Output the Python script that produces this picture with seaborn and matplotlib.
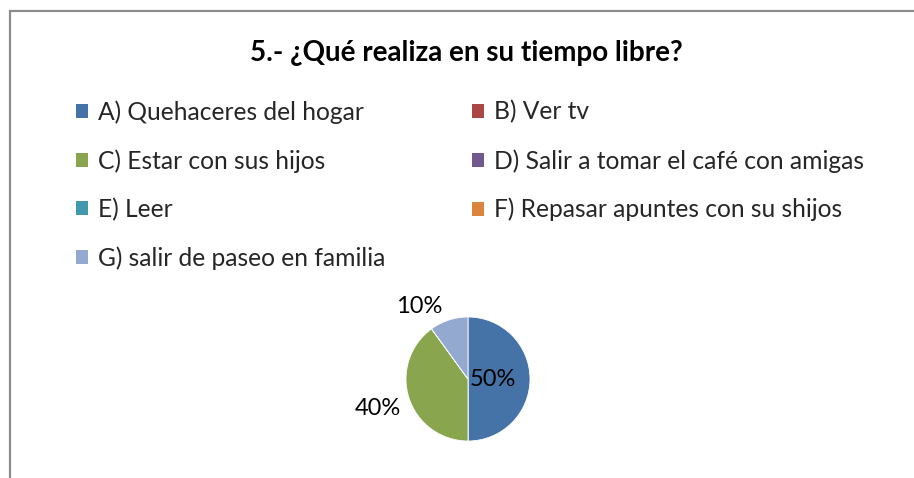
import numpy as np
import matplotlib
matplotlib.use('Agg')
import matplotlib.pyplot as plt
import seaborn as sns
from matplotlib.patches import Patch, Rectangle

sns.set_theme(style='white')
plt.rcParams['font.family'] = ['Lato', 'DejaVu Sans']

categorias = ['A) Quehaceres del hogar', 'B) Ver tv', 'C) Estar con sus hijos',
              'D) Salir a tomar el café con amigas', 'E) Leer',
              'F) Repasar apuntes con su shijos', 'G) salir de paseo en familia']
valores = [50, 0, 40, 0, 0, 0, 10]
etiquetas = ['50%', '', '40%', '', '', '', '10%']
colores = ['#4572A7', '#AA4643', '#89A54E', '#71588F', '#4198AF', '#DB843D', '#93A9CF']
titulo = '5.- ¿Qué realiza en su tiempo libre?'

fig = plt.figure(figsize=(9.14, 4.78), dpi=100)

# marco del grafico (sale por la derecha y por abajo)
fig.patches.append(Rectangle((9.5 / 914, -0.1), 1.2, 1 - 11.5 / 478 + 0.1,
                             transform=fig.transFigure, fill=False,
                             edgecolor='#8c8c8c', linewidth=1.6, zorder=0))

fig.text(466 / 914, 1 - 53 / 478, titulo, ha='center', va='center',
         fontsize=20, fontweight='bold', color='black')

# pie
cx, cy, r = 468, 379, 62
ax = fig.add_axes([(cx - r) / 914, (478 - cy - r) / 478, 2 * r / 914, 2 * r / 478])
wedges, _ = ax.pie(valores, colors=colores, startangle=90, counterclock=False,
                   radius=1, wedgeprops=dict(linewidth=0.6, edgecolor='white'))
ax.set_xlim(-1, 1)
ax.set_ylim(-1, 1)
ax.set_aspect('equal')
ax.axis('off')

dist = {0: (0.40, 0), 2: (1.53, 0), 6: (1.42, 16)}
for i, w in enumerate(wedges):
    if not etiquetas[i]:
        continue
    d, off = dist[i]
    ang = np.deg2rad((w.theta1 + w.theta2) / 2 + off)
    ax.text(d * np.cos(ang), d * np.sin(ang), etiquetas[i], ha='center', va='center',
            fontsize=17, color='black', clip_on=False)

# leyenda en dos columnas, orden por filas
orden = [0, 2, 4, 6, 1, 3, 5]
handles = [Patch(facecolor=colores[i], edgecolor='none') for i in orden]
labels = [categorias[i] for i in orden]
fig.legend(handles, labels, ncol=2, loc='upper left',
           bbox_to_anchor=(76 / 914, 1 - 100 / 478), frameon=False,
           fontsize=17.7, handlelength=0.5, handleheight=0.5, handletextpad=0.4,
           labelspacing=1.03, columnspacing=3.5, borderaxespad=0, borderpad=0)

fig.savefig('out.png', dpi=100)
